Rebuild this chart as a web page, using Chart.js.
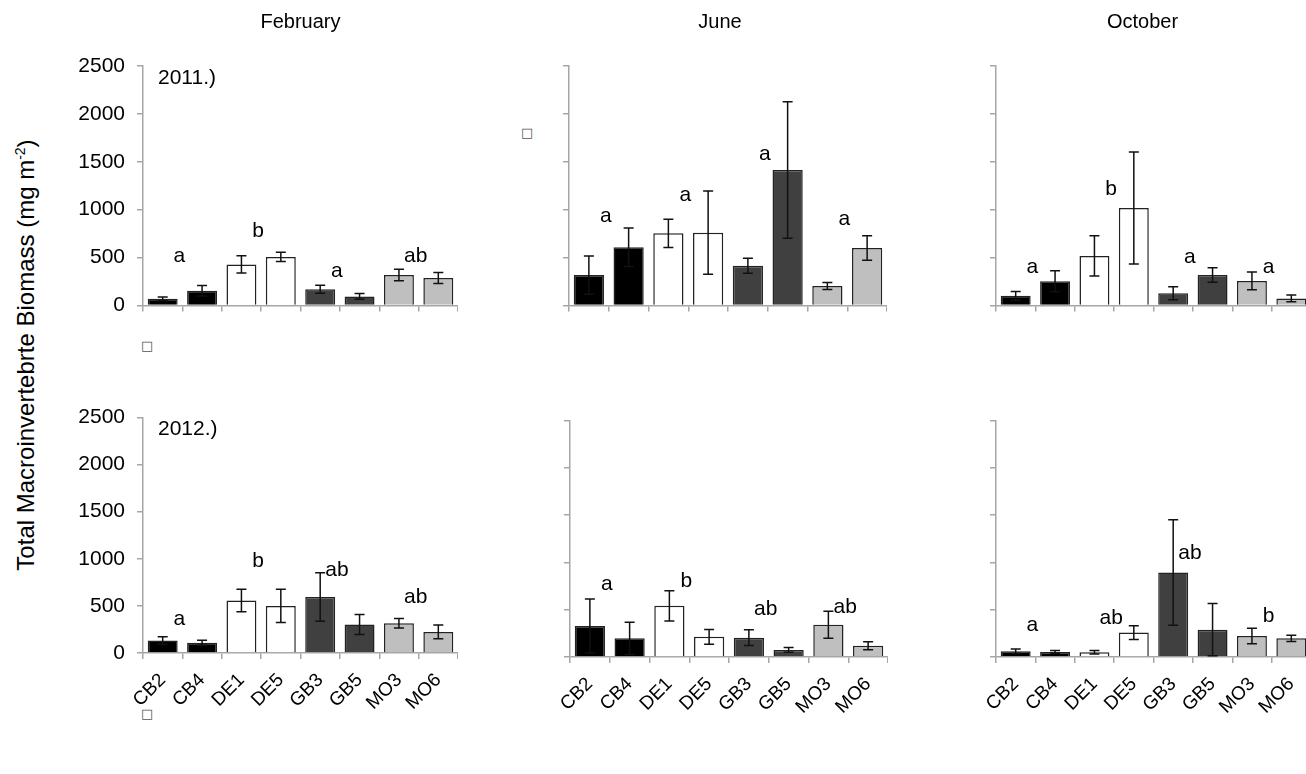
<!DOCTYPE html>
<html>
<head>
<meta charset="utf-8">
<script src="https://cdn.jsdelivr.net/npm/chart.js@4.4.1/dist/chart.umd.min.js"></script>
<style>
  body { margin: 0; width: 1306px; height: 774px; overflow: hidden; background: #fff; position: relative; }
  canvas { position: absolute; }
  #ytitle {
    position: absolute; left: -224px; top: 341px; width: 500px; height: 28px;
    font: 24px "Liberation Sans", Arial, sans-serif; color: #000; text-align: center;
    transform: rotate(-90deg); white-space: nowrap;
  }
  #ytitle sup { font-size: 14px; }
  .box { position: absolute; font: 13px "DejaVu Sans", sans-serif; color: #555; line-height: 13px; }
</style>
</head>
<body>
<div id="ytitle">Total Macroinvertebrte Biomass (mg m<sup>-2</sup>)</div>
<span class="box" style="left:521px;top:126px">&#x25A1;</span>
<span class="box" style="left:141px;top:339px">&#x25A1;</span>
<span class="box" style="left:141px;top:707px">&#x25A1;</span>

<canvas id="p1" width="385" height="328" style="left:73px;top:0px"></canvas>
<canvas id="p2" width="388" height="328" style="left:499px;top:0px"></canvas>
<canvas id="p3" width="385" height="328" style="left:926px;top:0px"></canvas>
<canvas id="p4" width="385" height="328" style="left:73px;top:395px"></canvas>
<canvas id="p5" width="388" height="329" style="left:500px;top:398px"></canvas>
<canvas id="p6" width="385" height="329" style="left:926px;top:398px"></canvas>

<script>
var sites = ["CB2", "CB4", "DE1", "DE5", "GB3", "GB5", "MO3", "MO6"];
var siteColors = ["#000000", "#000000", "#ffffff", "#ffffff", "#404040", "#404040", "#bfbfbf", "#bfbfbf"];
var yTicks = [0, 500, 1000, 1500, 2000, 2500];

// 2011
var feb2011 = [70, 155, 429, 507, 169, 95, 318, 287];
var feb2011Err = [20, 55, 90, 48, 42, 30, 60, 57];
var feb2011Letters = ["a", "b", "a", "ab"];
var feb2011LetterY = [517, 777, 355, 517];

var jun2011 = [318, 608, 753, 760, 415, 1415, 203, 601];
var jun2011Err = [200, 200, 147, 435, 78, 713, 37, 128];
var jun2011Letters = ["a", "a", "a", "a"];
var jun2011LetterY = [936, 1149, 1578, 905];

var oct2011 = [101, 253, 517, 1017, 128, 318, 257, 74];
var oct2011Err = [45, 110, 210, 585, 68, 75, 93, 35];
var oct2011Letters = ["a", "b", "a", "a"];
var oct2011LetterY = [395, 1216, 500, 395];

// 2012
var feb2012 = [133, 109, 558, 500, 595, 303, 316, 224];
var feb2012Err = [40, 27, 119, 177, 257, 107, 51, 73];
var feb2012Letters = ["a", "b", "ab", "ab"];
var feb2012LetterY = [354, 976, 874, 592];

var jun2012 = [327, 197, 541, 214, 204, 75, 340, 119];
var jun2012Err = [285, 170, 160, 78, 83, 25, 143, 43];
var jun2012Letters = ["a", "b", "ab", "ab"];
var jun2012LetterY = [765, 799, 510, 527];

var oct2012 = [61, 54, 51, 258, 894, 289, 221, 197];
var oct2012Err = [24, 14, 18, 72, 558, 277, 82, 34];
var oct2012Letters = ["a", "ab", "ab", "b"];
var oct2012LetterY = [340, 408, 1095, 435];

var FONT = '"Liberation Sans", Arial, sans-serif';
Chart.defaults.font.family = FONT;
Chart.defaults.color = "#000";

// error bars, significance letters, panel tag and month title
var decoPlugin = {
    id: "deco",
    afterDatasetsDraw: function (chart, args, o) {
        var ctx = chart.ctx;
        var ys = chart.scales.y;
        var meta = chart.getDatasetMeta(0);
        var vals = chart.data.datasets[0].data;
        ctx.save();
        ctx.strokeStyle = "#111";
        ctx.lineWidth = 1.5;
        meta.data.forEach(function (bar, i) {
            var yt = ys.getPixelForValue(vals[i] + o.errors[i]);
            var yb = ys.getPixelForValue(Math.max(0, vals[i] - o.errors[i]));
            ctx.beginPath();
            ctx.moveTo(bar.x, yt);
            ctx.lineTo(bar.x, yb);
            ctx.moveTo(bar.x - 5, yt);
            ctx.lineTo(bar.x + 5, yt);
            ctx.moveTo(bar.x - 5, yb);
            ctx.lineTo(bar.x + 5, yb);
            ctx.stroke();
        });

        ctx.fillStyle = "#000";
        ctx.font = "21px " + FONT;
        ctx.textAlign = "center";
        ctx.textBaseline = "middle";
        o.letters.forEach(function (txt, k) {
            var x = (meta.data[2 * k].x + meta.data[2 * k + 1].x) / 2 - 3;
            ctx.fillText(txt, x, ys.getPixelForValue(o.letterY[k]));
        });

        var area = chart.chartArea;
        if (o.tag) {
            ctx.textAlign = "left";
            ctx.fillText(o.tag, area.left + 15, area.top + 12);
        }
        if (o.title) {
            ctx.font = "20px " + FONT;
            ctx.textAlign = "center";
            ctx.fillText(o.title, (area.left + area.right) / 2 - o.titleShift, 22);
        }
        ctx.restore();
    },
};

function makePanel(id, values, errors, letters, letterY, cfg) {
    new Chart(document.getElementById(id), {
        type: "bar",
        data: {
            labels: sites,
            datasets: [
                {
                    data: values,
                    backgroundColor: siteColors,
                    borderColor: "#222",
                    borderWidth: 1.5,
                    barPercentage: 0.76,
                    categoryPercentage: 1,
                },
            ],
        },
        options: {
            responsive: false,
            animation: false,
            devicePixelRatio: 1,
            layout: { padding: { top: cfg.padTop, left: 0, right: 0, bottom: 0 } },
            plugins: {
                legend: { display: false },
                tooltip: { enabled: false },
                deco: {
                    errors: errors,
                    letters: letters,
                    letterY: letterY,
                    tag: cfg.tag,
                    title: cfg.title,
                    titleShift: cfg.titleShift || 0,
                },
            },
            scales: {
                x: {
                    afterFit: function (s) {
                        s.height = cfg.xHeight;
                        s.paddingLeft = 0;
                        s.paddingRight = 0;
                    },
                    grid: {
                        offset: true,
                        drawOnChartArea: false,
                        tickLength: 6,
                        color: "#a6a6a6",
                        lineWidth: 1.5,
                    },
                    border: { color: "#a6a6a6", width: 1.5 },
                    ticks: {
                        display: cfg.xLabels,
                        font: { size: 19 },
                        minRotation: 45,
                        maxRotation: 45,
                        padding: 10,
                        autoSkip: false,
                    },
                },
                y: {
                    min: 0,
                    max: 2500,
                    afterFit: function (s) { s.width = 70; },
                    afterBuildTicks: function (s) {
                        s.ticks = yTicks.map(function (v) { return { value: v }; });
                    },
                    grid: {
                        drawOnChartArea: false,
                        tickLength: 6,
                        color: "#a6a6a6",
                        lineWidth: 1.5,
                    },
                    border: { color: "#a6a6a6", width: 1.5 },
                    ticks: {
                        font: { size: 21, lineHeight: 1 },
                        padding: 12,
                        callback: function (v) { return cfg.yLabels ? String(v) : ""; },
                    },
                },
            },
        },
        plugins: [decoPlugin],
    });
}

makePanel("p1", feb2011, feb2011Err, feb2011Letters, feb2011LetterY,
    { padTop: 66, xHeight: 16, xLabels: false, yLabels: true, tag: "2011.)", title: "February", titleShift: 0 });
makePanel("p2", jun2011, jun2011Err, jun2011Letters, jun2011LetterY,
    { padTop: 66, xHeight: 16, xLabels: false, yLabels: false, title: "June", titleShift: 8 });
makePanel("p3", oct2011, oct2011Err, oct2011Letters, oct2011LetterY,
    { padTop: 66, xHeight: 16, xLabels: false, yLabels: false, title: "October", titleShift: 11 });
makePanel("p4", feb2012, feb2012Err, feb2012Letters, feb2012LetterY,
    { padTop: 14, xHeight: 70, xLabels: true, yLabels: true, tag: "2012.)" });
makePanel("p5", jun2012, jun2012Err, jun2012Letters, jun2012LetterY,
    { padTop: 14, xHeight: 70, xLabels: true, yLabels: false });
makePanel("p6", oct2012, oct2012Err, oct2012Letters, oct2012LetterY,
    { padTop: 14, xHeight: 70, xLabels: true, yLabels: false });
</script>
</body>
</html>
